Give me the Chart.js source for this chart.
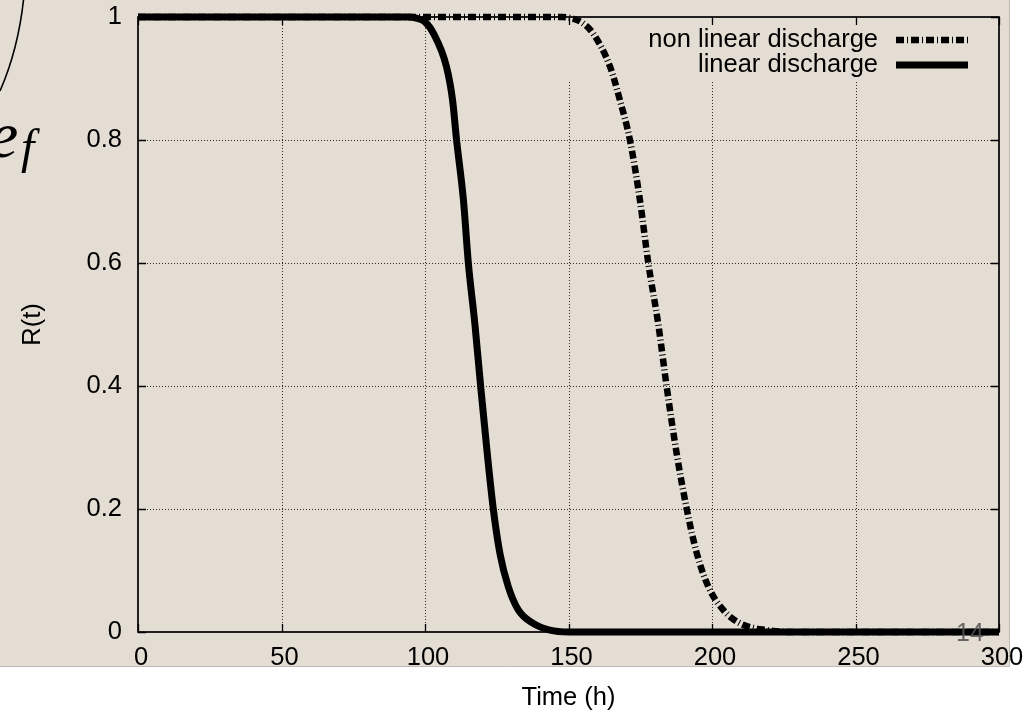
<!DOCTYPE html>
<html><head><meta charset="utf-8">
<script src="https://cdn.jsdelivr.net/npm/chart.js@4/dist/chart.umd.min.js"></script>
<style>html,body{margin:0;padding:0;background:#fff;}canvas{display:block;}</style>
</head><body>
<canvas id="c" width="1029" height="716"></canvas>
<script>
// ---- data ----
const seriesLabels = ['non linear discharge', 'linear discharge'];
const timeNonLinear = [0, 148, 151, 155, 158.6, 164.5, 167.9, 171.4, 174.9, 177.8, 181.3, 184.2, 187.7, 191.2, 194.7, 198.7, 203.9, 209.8, 219.1, 228, 300];
const rNonLinear    = [1, 1, 0.998, 0.99, 0.973, 0.919, 0.865, 0.8, 0.702, 0.6, 0.5, 0.399, 0.29, 0.2, 0.128, 0.074, 0.036, 0.014, 0.003, 0, 0];
const timeLinear    = [0, 94, 97, 100, 103, 107.5, 109.6, 111, 113.4, 115.1, 117.4, 119.4, 121.7, 123.8, 126.1, 129, 132.5, 137.7, 143.5, 150, 300];
const rLinear       = [1, 1, 0.998, 0.992, 0.973, 0.919, 0.865, 0.8, 0.702, 0.6, 0.5, 0.399, 0.29, 0.2, 0.128, 0.074, 0.036, 0.014, 0.003, 0, 0];
const xTicks = [0, 50, 100, 150, 200, 250, 300];
const yTicks = [0, 0.2, 0.4, 0.6, 0.8, 1];
const xTitle = 'Time (h)';
const yTitle = 'R(t)';
const pageNumber = '14';

// ---- styles ----
const BEIGE = 'rgb(227,221,211)';
const FONT = '"Liberation Sans", Arial, Helvetica, sans-serif';
const FS = 25.5;
const KEY_LEFT = 560, KEY_BOTTOM = 80;

const toPts = (xs, ys) => xs.map((t, i) => ({x: t, y: ys[i]}));

const decor = {
  id: 'decor',
  beforeDraw(chart) {
    const ctx = chart.ctx;
    ctx.save();
    ctx.fillStyle = '#fff'; ctx.fillRect(0, 0, chart.width, chart.height);
    ctx.fillStyle = BEIGE; ctx.fillRect(0, 0, 1009, 666);
    ctx.strokeStyle = '#bdbab4'; ctx.lineWidth = 1;
    ctx.beginPath(); ctx.moveTo(1009.5, 0); ctx.lineTo(1009.5, 666.5); ctx.lineTo(0, 666.5); ctx.stroke();
    // slide decoration (part of a formula)
    ctx.strokeStyle = '#000'; ctx.lineWidth = 1.6;
    ctx.beginPath(); ctx.moveTo(23.5, 0); ctx.quadraticCurveTo(18, 50, 0, 91); ctx.stroke();
    ctx.fillStyle = '#000'; ctx.textAlign = 'left'; ctx.textBaseline = 'alphabetic';
    ctx.font = 'italic 66px "Liberation Serif", serif';
    ctx.fillText('e', -11, 157);
    ctx.font = 'italic 48px "Liberation Serif", serif';
    ctx.fillText('f', 21, 163);
    ctx.restore();
  },
  beforeDatasetsDraw(chart) {
    const {ctx, chartArea: a, scales: {x, y}} = chart;
    ctx.save();
    // dotted grid
    ctx.strokeStyle = 'rgba(0,0,0,0.8)'; ctx.lineWidth = 1; ctx.setLineDash([1, 2]);
    xTicks.forEach(v => {
      if (v === x.min || v === x.max) return;
      const px = Math.round(x.getPixelForValue(v)) + 0.5;
      const top = px > KEY_LEFT ? KEY_BOTTOM : a.top;
      ctx.beginPath(); ctx.moveTo(px, a.bottom); ctx.lineTo(px, top); ctx.stroke();
    });
    yTicks.forEach(v => {
      if (v === y.min || v === y.max) return;
      const py = Math.round(y.getPixelForValue(v)) + 0.5;
      ctx.beginPath(); ctx.moveTo(a.left, py); ctx.lineTo(a.right, py); ctx.stroke();
    });
    ctx.setLineDash([]);
    // inward ticks (mirrored)
    ctx.strokeStyle = '#000'; ctx.lineWidth = 1.3;
    const TL = 8;
    xTicks.forEach(v => {
      const px = Math.round(x.getPixelForValue(v)) + 0.5;
      ctx.beginPath();
      ctx.moveTo(px, a.bottom); ctx.lineTo(px, a.bottom - TL);
      ctx.moveTo(px, a.top); ctx.lineTo(px, a.top + TL);
      ctx.stroke();
    });
    yTicks.forEach(v => {
      const py = Math.round(y.getPixelForValue(v)) + 0.5;
      ctx.beginPath();
      ctx.moveTo(a.left, py); ctx.lineTo(a.left + TL, py);
      ctx.moveTo(a.right, py); ctx.lineTo(a.right - TL, py);
      ctx.stroke();
    });
    // border box
    ctx.lineWidth = 1.7;
    ctx.strokeRect(a.left, a.top, a.right - a.left, a.bottom - a.top);
    ctx.restore();
  },
  afterDatasetsDraw(chart) {
    const ctx = chart.ctx;
    ctx.save();
    ctx.font = FS + 'px ' + FONT;
    ctx.textAlign = 'right'; ctx.textBaseline = 'middle';
    chart.data.datasets.forEach((ds, i) => {
      const ry = 40 + i * 25;
      ctx.fillStyle = '#000';
      ctx.fillText(ds.label, 878, ry);
      ctx.strokeStyle = ds.borderColor; ctx.lineWidth = ds.borderWidth;
      ctx.lineCap = 'butt';
      ctx.setLineDash(ds.borderDash || []);
      ctx.beginPath(); ctx.moveTo(896, ry); ctx.lineTo(968, ry); ctx.stroke();
    });
    ctx.setLineDash([]);
    // page number of the slide
    ctx.fillStyle = 'rgba(80,80,80,0.85)';
    ctx.textAlign = 'center';
    ctx.font = '300 25px ' + FONT;
    ctx.fillText(pageNumber, 970, 634);
    ctx.restore();
  }
};

new Chart(document.getElementById('c'), {
  type: 'line',
  data: {
    datasets: [
      {label: seriesLabels[0], data: toPts(timeNonLinear, rNonLinear), borderColor: '#000', borderWidth: 6.5,
       borderDash: [8, 3, 1, 3], borderCapStyle: 'butt', pointRadius: 0, cubicInterpolationMode: 'monotone', fill: false, clip: false},
      {label: seriesLabels[1], data: toPts(timeLinear, rLinear), borderColor: '#000', borderWidth: 7,
       borderCapStyle: 'butt', borderJoinStyle: 'round', pointRadius: 0, cubicInterpolationMode: 'monotone', fill: false, clip: false}
    ]
  },
  options: {
    responsive: false, animation: false, devicePixelRatio: 1,
    layout: {padding: {left: 0, right: 30, top: 17, bottom: 0}},
    plugins: {legend: {display: false}, tooltip: {enabled: false}},
    scales: {
      x: {
        type: 'linear', min: 0, max: 300,
        afterBuildTicks: s => { s.ticks = xTicks.map(v => ({value: v})); },
        afterFit: s => { s.height = 84; s.paddingLeft = 0; s.paddingRight = 0; },
        grid: {display: false, drawTicks: false}, border: {display: false},
        ticks: {color: '#000', font: {family: FONT, size: FS}, padding: 11, labelOffset: 3, maxRotation: 0, autoSkip: false, callback: v => String(v)},
        title: {display: true, text: xTitle, color: '#000', font: {family: FONT, size: FS}, padding: {top: 0, bottom: 3}}
      },
      y: {
        type: 'linear', min: 0, max: 1,
        afterBuildTicks: s => { s.ticks = yTicks.map(v => ({value: v})); },
        afterFit: s => { s.width = 138; s.paddingTop = 0; s.paddingBottom = 0; },
        grid: {display: false, drawTicks: false}, border: {display: false},
        ticks: {color: '#000', font: {family: FONT, size: FS}, padding: 16, autoSkip: false, callback: v => String(v)},
        title: {display: true, text: yTitle, color: '#000', font: {family: FONT, size: FS}, padding: {top: 18, bottom: 0}}
      }
    }
  },
  plugins: [decor]
});
</script>
</body></html>
